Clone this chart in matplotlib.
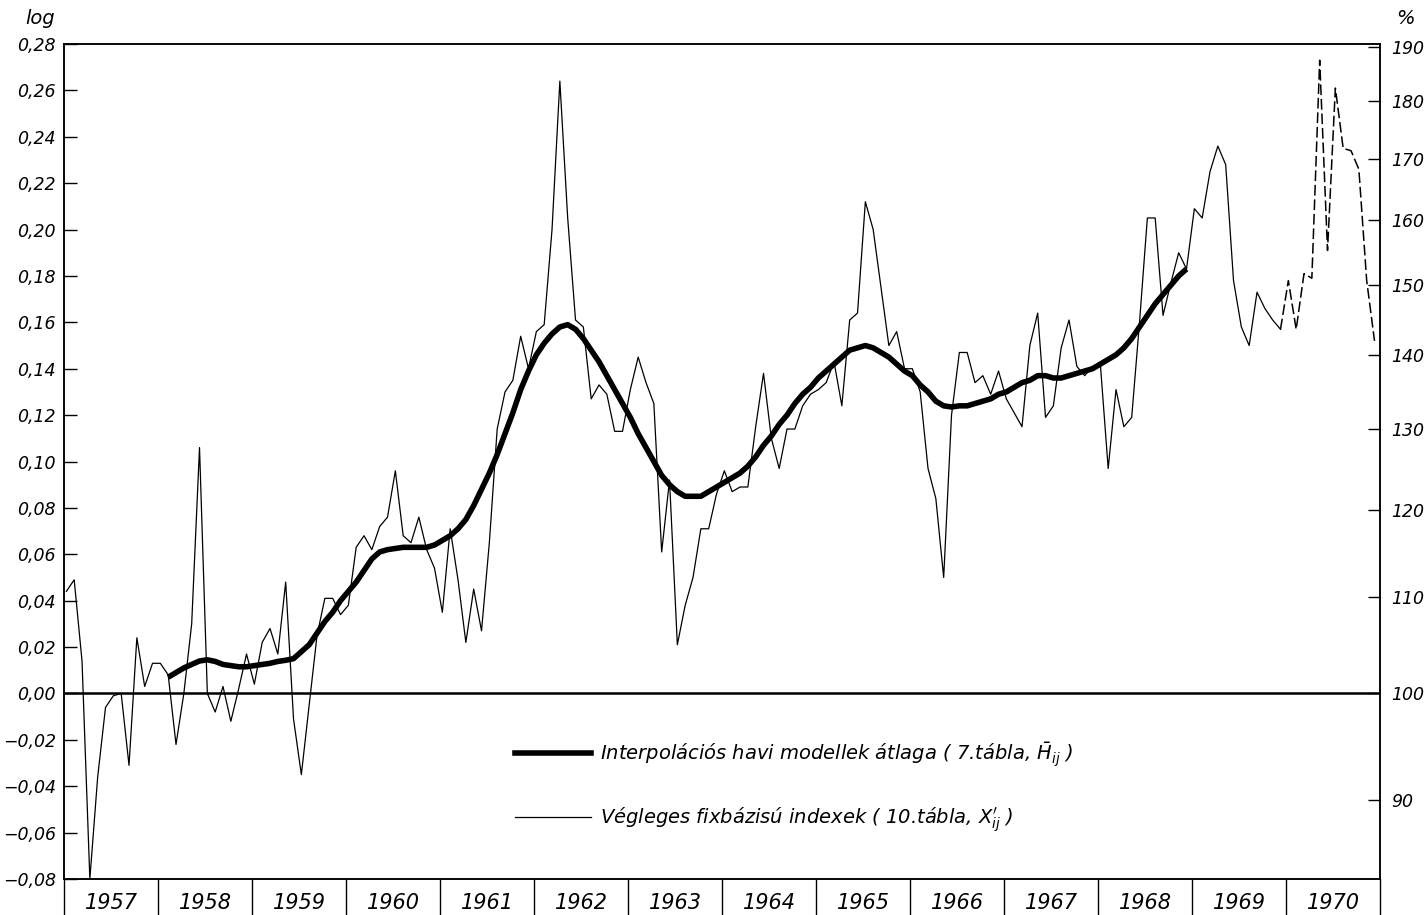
import numpy as np
import matplotlib.pyplot as plt

plt.rcParams['font.family'] = ['Liberation Sans Narrow', 'DejaVu Sans']
plt.rcParams['font.style'] = 'italic'
plt.rcParams['mathtext.fontset'] = 'dejavusans'

years = list(range(1957, 1971))
pct_ticks = [90, 100, 110, 120, 130, 140, 150, 160, 170, 180, 190]

# Végleges fixbázisú indexek (log), havi adatok 1957 jan - 1970 dec
vegleges = [
    0.044, 0.049, 0.014, -0.080, -0.036, -0.006, -0.001, 0.000, -0.031, 0.024, 0.003, 0.013,   # 1957
    0.013, 0.008, -0.022, 0.000, 0.030, 0.106, 0.000, -0.008, 0.003, -0.012, 0.002, 0.017,     # 1958
    0.004, 0.022, 0.028, 0.017, 0.048, -0.011, -0.035, -0.005, 0.025, 0.041, 0.041, 0.034,    # 1959
    0.038, 0.063, 0.068, 0.062, 0.072, 0.076, 0.096, 0.068, 0.065, 0.076, 0.062, 0.054,       # 1960
    0.035, 0.071, 0.049, 0.022, 0.045, 0.027, 0.065, 0.114, 0.130, 0.135, 0.154, 0.140,       # 1961
    0.156, 0.159, 0.200, 0.264, 0.205, 0.161, 0.158, 0.127, 0.133, 0.129, 0.113, 0.113,       # 1962
    0.131, 0.145, 0.134, 0.125, 0.061, 0.092, 0.021, 0.038, 0.050, 0.071, 0.071, 0.086,       # 1963
    0.096, 0.087, 0.089, 0.089, 0.115, 0.138, 0.110, 0.097, 0.114, 0.114, 0.124, 0.129,       # 1964
    0.131, 0.134, 0.143, 0.124, 0.161, 0.164, 0.212, 0.200, 0.175, 0.150, 0.156, 0.140,       # 1965
    0.140, 0.130, 0.097, 0.084, 0.050, 0.120, 0.147, 0.147, 0.134, 0.137, 0.129, 0.139,       # 1966
    0.127, 0.121, 0.115, 0.150, 0.164, 0.119, 0.124, 0.149, 0.161, 0.141, 0.137, 0.141,       # 1967
    0.142, 0.097, 0.131, 0.115, 0.119, 0.160, 0.205, 0.205, 0.163, 0.177, 0.190, 0.183,       # 1968
    0.209, 0.205, 0.225, 0.236, 0.228, 0.178, 0.158, 0.150, 0.173, 0.166, 0.161, 0.157,       # 1969
    0.178, 0.157, 0.181, 0.179, 0.273, 0.191, 0.261, 0.235, 0.234, 0.226, 0.178, 0.152,       # 1970
]

# Interpolációs havi modellek átlaga, 1958 feb - 1968 dec
modell_start = 13
modell = [
    0.007, 0.009, 0.011, 0.0125, 0.014, 0.0145, 0.0138, 0.0125, 0.012, 0.0115, 0.0115,       # 1958
    0.012, 0.0125, 0.013, 0.0138, 0.0143, 0.015, 0.018, 0.021, 0.026, 0.031, 0.035, 0.040,  # 1959
    0.044, 0.048, 0.053, 0.058, 0.061, 0.062, 0.0625, 0.063, 0.063, 0.063, 0.063, 0.064,    # 1960
    0.066, 0.068, 0.071, 0.075, 0.081, 0.088, 0.095, 0.103, 0.112, 0.121, 0.131, 0.139,     # 1961
    0.146, 0.151, 0.155, 0.158, 0.159, 0.157, 0.153, 0.148, 0.143, 0.137, 0.131, 0.125,     # 1962
    0.119, 0.112, 0.106, 0.100, 0.094, 0.090, 0.087, 0.085, 0.085, 0.085, 0.087, 0.089,     # 1963
    0.091, 0.093, 0.095, 0.098, 0.102, 0.107, 0.111, 0.116, 0.120, 0.125, 0.129, 0.132,     # 1964
    0.136, 0.139, 0.142, 0.145, 0.148, 0.149, 0.150, 0.149, 0.147, 0.145, 0.142, 0.139,     # 1965
    0.137, 0.133, 0.130, 0.126, 0.124, 0.1235, 0.124, 0.124, 0.125, 0.126, 0.127, 0.129,    # 1966
    0.130, 0.132, 0.134, 0.135, 0.137, 0.137, 0.136, 0.136, 0.137, 0.138, 0.139, 0.140,     # 1967
    0.142, 0.144, 0.146, 0.149, 0.153, 0.158, 0.163, 0.168, 0.172, 0.176, 0.180, 0.183,     # 1968
]
elozetes_from = 155  # 1970: előzetes adatok, szaggatott vonal

x_v = np.arange(len(vegleges)) + 0.3
x_m = np.arange(modell_start, modell_start + len(modell)) + 0.3
v = np.array(vegleges)

fig = plt.figure(figsize=(14.25, 9.15), dpi=100)
ax = fig.add_axes([64 / 1425, 36 / 915, 1316 / 1425, 835 / 915])

ax.axhline(0, color='black', lw=1.8, zorder=1)
ax.plot(x_v[:elozetes_from + 1], v[:elozetes_from + 1], color='black', lw=0.9)
ax.plot(x_v[elozetes_from:], v[elozetes_from:], color='black', lw=1.1, ls=(0, (7, 2.5)))
ax.plot(x_m, modell, color='black', lw=4.0, solid_capstyle='butt')

ax.set_xlim(0, 12 * len(years))
ax.set_ylim(-0.08, 0.28)

yt = np.round(np.arange(-0.08, 0.2801, 0.02), 2)
ax.set_yticks(yt)
ax.set_yticklabels([f'{t:.2f}'.replace('.', ',').replace('-', '\u2212') for t in yt])
ax.tick_params(axis='y', direction='in', length=9, width=1, pad=6, labelsize=12.5)

ax.set_xticks(np.arange(0, 12 * len(years) + 1, 12))
ax.set_xticklabels([])
ax.set_xticks(np.arange(6, 12 * len(years), 12), minor=True)
ax.set_xticklabels([str(y) for y in years], minor=True)
ax.tick_params(axis='x', which='major', direction='out', length=27, width=1)
ax.tick_params(axis='x', which='minor', length=0, pad=10, labelsize=15)

ax2 = ax.twinx()
ax2.set_ylim(ax.get_ylim())
ax2.set_yticks(np.log10(np.array(pct_ticks) / 100))
ax2.set_yticklabels([str(p) for p in pct_ticks])
ax2.tick_params(axis='y', direction='in', length=9, width=1, pad=8, labelsize=12.5)

for a in (ax, ax2):
    for s in a.spines.values():
        s.set_linewidth(1.1)

ax.text(-0.018, 1.03, 'log', transform=ax.transAxes, ha='center', va='center', fontsize=14)
ax.text(1.019, 1.03, '%', transform=ax.transAxes, ha='center', va='center', fontsize=14)

h1, = ax.plot([], [], color='black', lw=4.0)
h2, = ax.plot([], [], color='black', lw=0.9)
ax.legend([h1, h2],
          ['Interpolációs havi modellek átlaga ( 7.tábla, $\\bar{H}_{ij}$ )',
           "Végleges fixbázisú indexek ( 10.tábla, $X^{\\prime}_{ij}$ )"],
          loc='center left', bbox_to_anchor=(0.343, 0.11), frameon=False,
          fontsize=14, handlelength=3.9, handletextpad=0.45, labelspacing=1.9,
          borderpad=0, borderaxespad=0)

plt.savefig('out.png', dpi=100)
